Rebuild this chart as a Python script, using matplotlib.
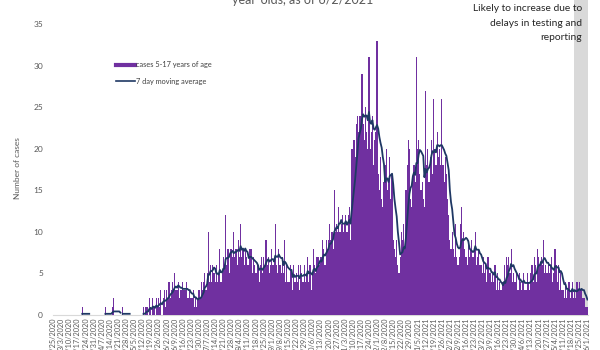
import numpy as np
import pandas as pd
import matplotlib
matplotlib.use("Agg")
import matplotlib.pyplot as plt
from matplotlib.lines import Line2D

plt.rcParams['font.family'] = ['Lato', 'DejaVu Sans']

# daily cases, ages 5-17, one row per week starting Tue 2/25/2020
start_date = "2020-02-25"
cases = [
    0, 0, 0, 0, 0, 0, 0,
    0, 0, 0, 0, 0, 0, 0,
    0, 0, 0, 0, 0, 0, 0,
    0, 0, 0, 0, 1, 0, 0,
    0, 0, 0, 0, 0, 0, 0,
    0, 0, 0, 0, 0, 0, 0,
    0, 0, 0, 1, 0, 0, 0,
    0, 0, 1, 2, 0, 0, 0,
    0, 0, 0, 0, 1, 0, 0,
    0, 0, 0, 0, 0, 0, 0,
    0, 0, 0, 0, 0, 0, 0,
    0, 1, 0, 1, 1, 0, 2,
    1, 0, 2, 1, 0, 2, 1,
    2, 1, 3, 0, 2, 3, 1,
    3, 2, 4, 2, 3, 4, 3,
    5, 3, 3, 4, 2, 3, 3,
    4, 3, 3, 4, 2, 2, 3,
    2, 2, 3, 1, 2, 1, 2,
    3, 2, 4, 3, 4, 5, 3,
    5, 10, 4, 6, 4, 6, 5,
    4, 6, 4, 5, 8, 4, 5,
    7, 6, 12, 6, 8, 5, 8,
    8, 7, 10, 7, 8, 6, 9,
    7, 11, 7, 8, 6, 8, 7,
    6, 6, 8, 8, 5, 7, 6,
    5, 5, 6, 4, 6, 7, 5,
    7, 6, 9, 6, 7, 5, 6,
    8, 6, 7, 11, 6, 5, 8,
    6, 5, 7, 5, 9, 4, 6,
    4, 4, 6, 5, 3, 6, 4,
    5, 4, 6, 3, 6, 5, 4,
    6, 4, 5, 7, 4, 6, 3,
    5, 8, 6, 5, 7, 7, 6,
    7, 7, 9, 8, 6, 9, 8,
    9, 11, 9, 10, 8, 15, 10,
    11, 10, 13, 10, 11, 12, 10,
    11, 12, 10, 12, 13, 9, 20,
    20, 21, 19, 23, 24, 22, 24,
    24, 29, 23, 21, 25, 22, 20,
    31, 20, 22, 24, 18, 21, 22,
    33, 17, 15, 19, 14, 13, 16,
    18, 20, 15, 16, 19, 14, 17,
    9, 8, 7, 9, 6, 5, 7,
    10, 9, 11, 8, 15, 18, 21,
    20, 14, 13, 16, 18, 16, 31,
    20, 21, 17, 15, 16, 14, 13,
    27, 18, 20, 16, 19, 21, 17,
    26, 20, 18, 22, 19, 20, 18,
    26, 18, 16, 19, 17, 14, 12,
    9, 8, 10, 8, 7, 11, 7,
    6, 7, 11, 13, 9, 10, 8,
    7, 6, 9, 7, 8, 9, 7,
    8, 10, 6, 7, 8, 6, 6,
    5, 7, 5, 6, 4, 7, 5,
    5, 4, 5, 4, 6, 3, 5,
    3, 4, 3, 3, 4, 6, 4,
    7, 6, 7, 5, 8, 4, 5,
    4, 4, 5, 3, 5, 4, 3,
    4, 5, 3, 3, 5, 4, 3,
    5, 6, 4, 7, 6, 4, 8,
    7, 6, 7, 6, 9, 5, 6,
    5, 6, 5, 6, 7, 4, 5,
    8, 6, 4, 6, 3, 5, 3,
    3, 2, 4, 2, 3, 4, 2,
    3, 4, 2, 3, 2, 4, 3,
    4, 3, 3, 2, 2, 1, 1,
    1,
]
shade_start = "2021-05-21"   # recent days, likely incomplete
y_ticks = [0, 5, 10, 15, 20, 25, 30, 35]

dates = pd.date_range(start_date, periods=len(cases), freq="D")
s = pd.Series(cases, index=dates)
ma = s.rolling(7, min_periods=1).mean()
ma = ma.where(ma > 0)

purple = "#7030a0"
navy = "#1f3864"
grey_txt = "#595959"
half_day = pd.Timedelta(hours=12)

fig = plt.figure(figsize=(6, 3.5), dpi=100)
ax = fig.add_axes([0.088, 0.1, 0.892, 0.9])

ax.axvspan(pd.Timestamp(shade_start) - half_day, dates[-1] + half_day,
           color="#d9d9d9", lw=0, zorder=0)
ax.bar(dates, cases, width=1.0, color=purple, lw=0, zorder=2)
ax.plot(dates, ma, color=navy, lw=1.3, zorder=3)

ax.set_xlim(dates[0] - half_day, dates[-1] + half_day)
ax.set_ylim(0, 37.9)
ax.set_yticks(y_ticks)
ax.set_yticklabels([str(v) for v in y_ticks])

tick_dates = dates[::7]
ax.set_xticks(tick_dates)
ax.set_xticklabels([f"{d.month}/{d.day}/{d.year}" for d in tick_dates],
                   rotation=90, va="top", ha="center")

for side in ["top", "right", "left"]:
    ax.spines[side].set_visible(False)
ax.spines["bottom"].set_color("#d9d9d9")
ax.spines["bottom"].set_zorder(1)
ax.tick_params(axis="y", length=0, pad=7, labelsize=6, labelcolor=grey_txt)
ax.tick_params(axis="x", length=0, pad=2, labelsize=5.3, labelcolor=grey_txt)

handles = [Line2D([], [], color=purple, lw=3),
           Line2D([], [], color=navy, lw=1.2)]
ax.legend(handles, ["cases 5-17 years of age", "7 day moving average"],
          loc="upper left", bbox_to_anchor=(0.105, 0.826), frameon=False,
          fontsize=5.3, handlelength=2.6, handletextpad=0.2, labelspacing=1.3,
          labelcolor="#404040")

fig.text(18 / 600, 0.52, "Number of cases", rotation=90, ha="center",
         va="center", fontsize=6, color=grey_txt)
fig.text(0.505, 1 - 4.5 / 350, "year-olds, as of 6/2/2021", ha="center",
         va="baseline", fontsize=9, color=grey_txt)
fig.text(582 / 600, 1 - 4 / 350,
         "Likely to increase due to\ndelays in testing and\nreporting",
         ha="right", va="top", fontsize=7.4, color="#262626", linespacing=1.8)

fig.savefig("out.png", dpi=100)
